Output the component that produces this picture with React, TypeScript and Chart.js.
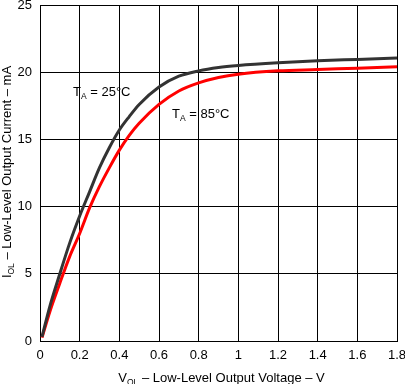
import React, { useEffect, useRef } from "react";
import { Chart, registerables } from "chart.js";

Chart.register(...registerables);

const xTicks = [0, 0.2, 0.4, 0.6, 0.8, 1, 1.2, 1.4, 1.6, 1.8];
const yTicks = [0, 5, 10, 15, 20, 25];

const vol25 = [0.01, 0.05, 0.1, 0.15, 0.2, 0.25, 0.3, 0.35, 0.4, 0.45, 0.5, 0.6, 0.7, 0.8, 0.9, 1.0, 1.2, 1.4, 1.6, 1.8];
const iol25 = [0.3, 2.6, 5.0, 7.3, 9.3, 11.1, 12.9, 14.4, 15.7, 16.7, 17.6, 18.9, 19.7, 20.1, 20.35, 20.5, 20.7, 20.85, 20.95, 21.05];

const vol85 = [0.01, 0.05, 0.1, 0.15, 0.2, 0.25, 0.3, 0.35, 0.4, 0.45, 0.5, 0.6, 0.7, 0.8, 0.9, 1.0, 1.2, 1.4, 1.6, 1.8];
const iol85 = [0.25, 2.2, 4.3, 6.3, 8.0, 9.9, 11.5, 12.9, 14.2, 15.3, 16.2, 17.6, 18.6, 19.2, 19.6, 19.85, 20.1, 20.2, 20.3, 20.4];

type Part = { t: string; sub?: boolean };

const FONT = "Arial, 'Liberation Sans', sans-serif";

function drawRich(ctx: CanvasRenderingContext2D, parts: Part[], x: number, y: number, align: "left" | "center") {
  const main = `13px ${FONT}`;
  const sub = `8.5px ${FONT}`;
  let total = 0;
  for (const p of parts) {
    ctx.font = p.sub ? sub : main;
    total += ctx.measureText(p.t).width;
  }
  let cx = align === "center" ? x - total / 2 : x;
  ctx.textBaseline = "alphabetic";
  ctx.textAlign = "left";
  for (const p of parts) {
    ctx.font = p.sub ? sub : main;
    ctx.fillText(p.t, cx, p.sub ? y + 3 : y);
    cx += ctx.measureText(p.t).width;
  }
}

const textPlugin = {
  id: "richText",
  afterDraw(chart: any) {
    const ctx: CanvasRenderingContext2D = chart.ctx;
    const xs = chart.scales.x;
    ctx.save();
    ctx.fillStyle = "#000";
    // curve labels
    drawRich(ctx, [{ t: "T" }, { t: "A", sub: true }, { t: " = 25°C" }], 73, 96, "left");
    drawRich(ctx, [{ t: "T" }, { t: "A", sub: true }, { t: " = 85°C" }], 172, 118, "left");
    // x title
    const xc = (xs.left + xs.right) / 2 + 3;
    drawRich(ctx, [{ t: "V" }, { t: "OL", sub: true }, { t: " – Low-Level Output Voltage – V" }], xc, 381.5, "center");
    // y title
    ctx.translate(10.5, 172);
    ctx.rotate(-Math.PI / 2);
    drawRich(ctx, [{ t: "I" }, { t: "OL", sub: true }, { t: " – Low-Level Output Current – mA" }], 0, 0, "center");
    ctx.restore();
  },
};

export default function App() {
  const ref = useRef<HTMLCanvasElement>(null);
  useEffect(() => {
    if (!ref.current) return;
    const chart = new Chart(ref.current, {
      type: "line",
      data: {
        datasets: [
          {
            label: "25°C",
            data: vol25.map((v, i) => ({ x: v, y: iol25[i] })),
            borderColor: "#333333",
            borderWidth: 3,
            pointRadius: 0,
            cubicInterpolationMode: "monotone",
            fill: false,
          },
          {
            label: "85°C",
            data: vol85.map((v, i) => ({ x: v, y: iol85[i] })),
            borderColor: "#ff0000",
            borderWidth: 3,
            pointRadius: 0,
            cubicInterpolationMode: "monotone",
            fill: false,
          },
        ],
      },
      options: {
        animation: false,
        responsive: true,
        maintainAspectRatio: false,
        layout: { padding: { top: 5, right: 8, left: 0, bottom: 0 } },
        plugins: { legend: { display: false }, tooltip: { enabled: false } },
        scales: {
          x: {
            type: "linear",
            min: 0,
            max: 1.8,
            afterBuildTicks: (s: any) => {
              s.ticks = xTicks.map((v) => ({ value: v }));
            },
            afterFit: (s: any) => {
              s.height = 43;
              s.paddingLeft = 0;
              s.paddingRight = 0;
            },
            ticks: {
              color: "#000",
              font: { family: FONT, size: 13 },
              padding: 7,
              maxRotation: 0,
              autoSkip: false,
              callback: (v: any) => String(Number(Number(v).toFixed(1))),
            },
            grid: { color: "#000", lineWidth: 1, drawTicks: false },
            border: { color: "#000", width: 1 },
          },
          y: {
            type: "linear",
            min: 0,
            max: 25,
            afterBuildTicks: (s: any) => {
              s.ticks = yTicks.map((v) => ({ value: v }));
            },
            afterFit: (s: any) => {
              s.width = 40;
              s.paddingTop = 0;
              s.paddingBottom = 0;
            },
            ticks: {
              color: "#000",
              font: { family: FONT, size: 13 },
              padding: 8,
              autoSkip: false,
            },
            grid: { color: "#000", lineWidth: 1, drawTicks: false },
            border: { color: "#000", width: 1 },
          },
        },
      },
      plugins: [textPlugin],
    } as any);
    return () => chart.destroy();
  }, []);
  return (
    <div style={{ position: "absolute", left: 0, top: 0, width: 405, height: 384, background: "#fff" }}>
      <canvas ref={ref} />
    </div>
  );
}
